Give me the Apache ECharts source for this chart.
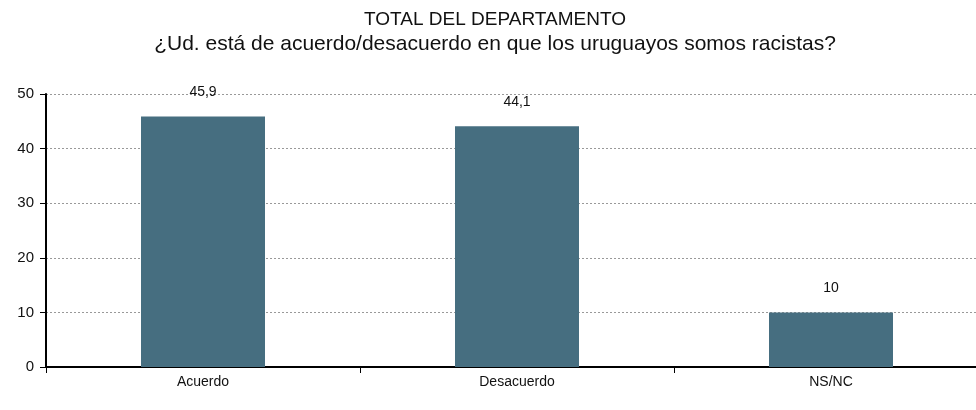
<!DOCTYPE html>
<html>
<head>
<meta charset="utf-8">
<script src="https://cdn.jsdelivr.net/npm/echarts@6/dist/echarts.min.js"></script>
<style>
  html, body { margin: 0; padding: 0; background: #fff; overflow: hidden; }
  #main { width: 990px; height: 410px; }
</style>
</head>
<body>
<div id="main"></div>
<script>
var categories = ['Acuerdo', 'Desacuerdo', 'NS/NC'];
var values = [45.9, 44.1, 10];
var yTicks = [0, 10, 20, 30, 40, 50];

var narrow = '"Liberation Sans Narrow", "Arial Narrow", "Liberation Sans", sans-serif';
var plain = '"Liberation Sans", Arial, sans-serif';

var myChart = echarts.init(document.getElementById('main'));

var option = {
    backgroundColor: '#fff',
    animation: false,
    title: {
        text: 'TOTAL DEL DEPARTAMENTO',
        subtext: '¿Ud. está de acuerdo/desacuerdo en que los uruguayos somos racistas?',
        left: 'center',
        top: 5,
        itemGap: 5,
        textStyle: {
            fontFamily: plain,
            fontWeight: 'normal',
            fontSize: 19,
            color: '#111'
        },
        subtextStyle: {
            fontFamily: plain,
            fontSize: 21,
            color: '#111'
        }
    },
    grid: {
        left: 46,
        top: 94,
        right: 2,
        height: 273
    },
    xAxis: {
        type: 'category',
        data: categories,
        axisLine: { lineStyle: { color: '#000', width: 2 } },
        axisTick: { show: true, length: 6, lineStyle: { color: '#000', width: 1 } },
        axisLabel: {
            margin: 8,
            fontFamily: narrow,
            fontSize: 14,
            color: '#111'
        }
    },
    yAxis: {
        type: 'value',
        min: yTicks[0],
        max: yTicks[yTicks.length - 1],
        interval: 10,
        axisLine: { show: true, lineStyle: { color: '#000', width: 2 } },
        axisTick: { show: true, length: 6, lineStyle: { color: '#000', width: 1 } },
        axisLabel: {
            margin: 12,
            fontFamily: narrow,
            fontSize: 15,
            color: '#111'
        },
        splitLine: {
            show: true,
            lineStyle: { color: '#999', type: [2, 2], width: 1 }
        }
    },
    series: [
        {
            type: 'bar',
            data: values,
            barWidth: 124,
            itemStyle: { color: '#466e80' },
            label: {
                show: true,
                position: 'top',
                distance: 17,
                fontFamily: narrow,
                fontSize: 14,
                color: '#111',
                formatter: function (p) {
                    return String(p.value).replace('.', ',');
                }
            }
        }
    ]
};

myChart.setOption(option);
</script>
</body>
</html>
